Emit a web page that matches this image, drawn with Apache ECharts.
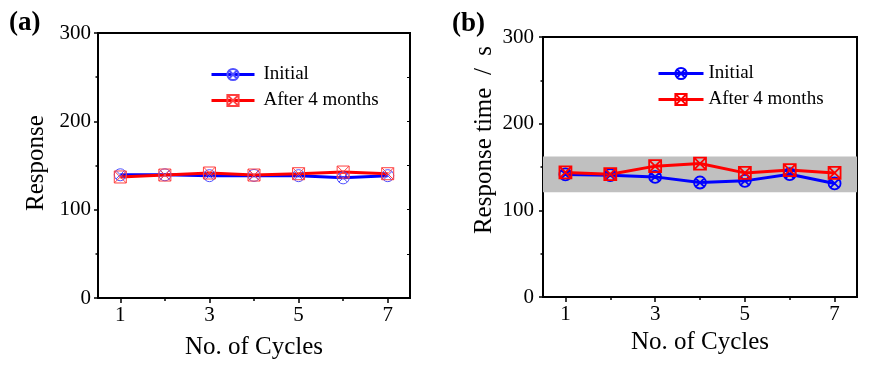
<!DOCTYPE html>
<html>
<head>
<meta charset="utf-8">
<script src="https://cdn.jsdelivr.net/npm/echarts@6/dist/echarts.min.js"></script>
<style>
html,body{margin:0;padding:0;background:#fff;}
#chart{width:880px;height:371px;}
</style>
</head>
<body>
<div id="chart"></div>
<script>
const cycles = [1, 2, 3, 4, 5, 6, 7];
const aInitial = [139.5, 139.5, 138.5, 138.8, 138.5, 136, 138.5];
const aAfter = [137, 139.2, 141.5, 139.2, 140.7, 142.6, 140.7];
const bInitial = [141.4, 140.6, 138.6, 132.1, 134, 141.7, 131];
const bAfter = [143.7, 141.7, 151, 154, 143.2, 146.4, 143.2];
const bandRange = [121, 162];
const xLabelTicks = [1, 3, 5, 7];
const xMinorTicks = [2, 4, 6];
const seriesNames = ['Initial', 'After 4 months'];

const FONT = "'Liberation Serif', 'Times New Roman', serif";
const circleX = 'path://M0,-10A10,10 0 1,1 0,10A10,10 0 1,1 0,-10ZM-7.07,-7.07L7.07,7.07M7.07,-7.07L-7.07,7.07';
const squareX = 'path://M-10,-10L10,-10L10,10L-10,10ZM-10,-10L10,10M10,-10L-10,10';

function pairs(vals) { return cycles.map((c, i) => [c, vals[i]]); }

const grids = [
  { left: 98, top: 33, width: 312, height: 265 },
  { left: 543, top: 37, width: 314, height: 260 }
];

function yAxes(gi, rightTicks) {
  return [{
    gridIndex: gi, type: 'value', min: 0, max: 300, interval: 100, position: 'left',
    axisLine: { show: true, lineStyle: { color: '#000', width: 2 } },
    axisTick: { show: true, length: 4, lineStyle: { color: '#000', width: 1.5 } },
    minorTick: { show: true, splitNumber: 2, length: 2.5, lineStyle: { color: '#000', width: 1.5 } },
    splitLine: { show: false },
    axisLabel: { color: '#000', fontFamily: FONT, fontSize: 21, margin: gi === 0 ? 7 : 9 }
  }, {
    gridIndex: gi, type: 'value', min: 0, max: 300, interval: 50, position: 'right',
    axisLine: { show: true, lineStyle: { color: '#000', width: 2 } },
    axisTick: { show: rightTicks, inside: true, length: 3, lineStyle: { color: '#000', width: 1 } },
    splitLine: { show: false },
    axisLabel: { show: false }
  }];
}
function xAxes(gi) {
  return [{
    gridIndex: gi, type: 'value', min: 0.5, max: 7.5, position: 'bottom',
    axisLine: { show: true, onZero: false, lineStyle: { color: '#000', width: 2 } },
    axisTick: { show: true, length: 5, customValues: xLabelTicks, lineStyle: { color: '#000', width: 1.5 } },
    splitLine: { show: false },
    axisLabel: { color: '#000', fontFamily: FONT, fontSize: 21, margin: 7, customValues: xLabelTicks }
  }, {
    gridIndex: gi, type: 'value', min: 0.5, max: 7.5, position: 'bottom',
    axisLine: { show: false, onZero: false },
    axisTick: { show: true, length: 3, customValues: xMinorTicks, lineStyle: { color: '#000', width: 1.5 } },
    splitLine: { show: false },
    axisLabel: { show: false }
  }];
}

function lineSeries(name, gi, vals, color, mColor, symbol, size, bw, extra) {
  return Object.assign({
    name: name, type: 'line', xAxisIndex: gi * 2, yAxisIndex: gi * 2,
    data: pairs(vals), color: color,
    symbol: symbol, symbolSize: size, showSymbol: true,
    lineStyle: { color: color, width: 3 },
    itemStyle: { color: 'rgba(255,255,255,0)', borderColor: mColor, borderWidth: bw },
    emphasis: { disabled: true }, animation: false
  }, extra || {});
}

const option = {
  animation: false,
  backgroundColor: '#fff',
  grid: grids.map(g => Object.assign({ show: true, borderColor: '#000', borderWidth: 2, backgroundColor: 'transparent' }, g)),
  xAxis: [...xAxes(0), ...xAxes(1)],
  yAxis: [...yAxes(0, true), ...yAxes(1, false)],
  legend: [{
    data: seriesNames, orient: 'vertical', left: 210, top: 65, padding: 0,
    itemWidth: 43, itemHeight: 14, itemGap: 7,
    lineStyle: { width: 3 },
    textStyle: { color: '#000', fontFamily: FONT, fontSize: 19, lineHeight: 18, padding: [0, 0, 0, 4] },
    selectedMode: false
  }, {
    data: seriesNames.map(n => n + ' '), orient: 'vertical', left: 657, top: 64, padding: 0,
    itemWidth: 45, itemHeight: 14, itemGap: 7,
    lineStyle: { width: 3 },
    textStyle: { color: '#000', fontFamily: FONT, fontSize: 19, lineHeight: 18, padding: [0, 0, 0, 0] },
    selectedMode: false
  }],
  graphic: [
    { type: 'text', left: 9, top: 10, style: { text: '(a)', font: 'bold 27px ' + FONT, fill: '#000' } },
    { type: 'text', left: 452, top: 11, style: { text: '(b)', font: 'bold 27px ' + FONT, fill: '#000' } },
    { type: 'text', x: 36, y: 163, rotation: Math.PI / 2,
      style: { text: 'Response', font: '25px ' + FONT, fill: '#000', align: 'center', verticalAlign: 'middle', textAlign: 'center', textVerticalAlign: 'middle' } },
    { type: 'text', x: 484, y: 140, rotation: Math.PI / 2,
      style: { text: 'Response time  /  s', font: '25px ' + FONT, fill: '#000', align: 'center', verticalAlign: 'middle', textAlign: 'center', textVerticalAlign: 'middle' } },
    { type: 'text', x: 254, y: 347,
      style: { text: 'No. of Cycles', font: '25px ' + FONT, fill: '#000', align: 'center', verticalAlign: 'middle', textAlign: 'center', textVerticalAlign: 'middle' } },
    { type: 'text', x: 700, y: 342,
      style: { text: 'No. of Cycles', font: '25px ' + FONT, fill: '#000', align: 'center', verticalAlign: 'middle', textAlign: 'center', textVerticalAlign: 'middle' } }
  ],
  series: [
    lineSeries('Initial', 0, aInitial, '#0000ff', '#5050ff', circleX, 12, 1),
    lineSeries('After 4 months', 0, aAfter, '#ff0000', '#ff4040', squareX, 12, 1),
    lineSeries('Initial ', 1, bInitial, '#0000ff', '#0000ff', circleX, 12, 1.8, {
      markArea: {
        silent: true,
        itemStyle: { color: '#c0c0c0' },
        data: [[{ yAxis: bandRange[0] }, { yAxis: bandRange[1] }]]
      }
    }),
    lineSeries('After 4 months ', 1, bAfter, '#ff0000', '#ff0000', squareX, 12, 1.8)
  ]
};

const chart = echarts.init(document.getElementById('chart'), null, { renderer: 'canvas' });
chart.setOption(option);
</script>
</body>
</html>
